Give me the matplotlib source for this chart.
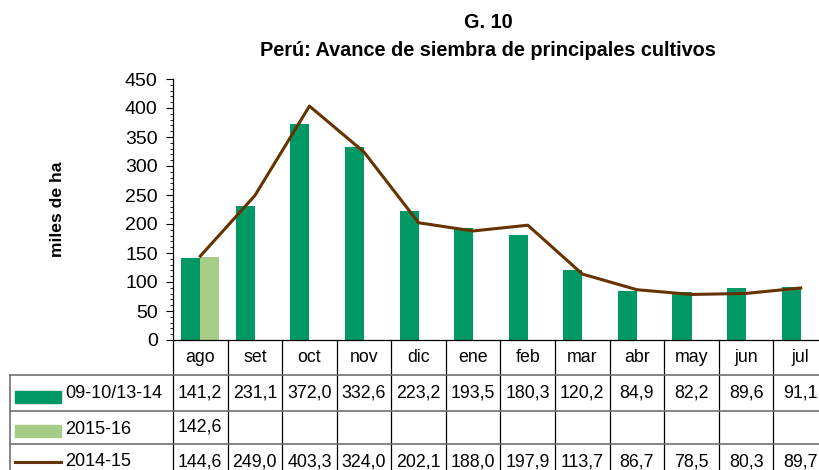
import matplotlib.pyplot as plt
import matplotlib.transforms as mtransforms
import numpy as np

plt.rcParams['font.family'] = ['Liberation Sans', 'DejaVu Sans']

meses = ['ago', 'set', 'oct', 'nov', 'dic', 'ene', 'feb', 'mar', 'abr', 'may', 'jun', 'jul']
prom_0914 = [141.2, 231.1, 372.0, 332.6, 223.2, 193.5, 180.3, 120.2, 84.9, 82.2, 89.6, 91.1]
camp_1516 = [142.6]
camp_1415 = [144.6, 249.0, 403.3, 324.0, 202.1, 188.0, 197.9, 113.7, 86.7, 78.5, 80.3, 89.7]

c_dark = '#009966'
c_light = '#a6cd86'
c_brown = '#663300'
fs = 12.8

fig = plt.figure(figsize=(8.2, 4.7), dpi=100)
ax = fig.add_axes([173 / 820, 130 / 470, 655 / 820, 261 / 470])

x = np.arange(len(meses))
w = 0.35
ax.bar(x - w / 2, prom_0914, width=w, color=c_dark, zorder=2)
ax.bar(x[:len(camp_1516)] + w / 2, camp_1516, width=w, color=c_light, zorder=2)
ax.plot(x, camp_1415, color=c_brown, lw=2.2, zorder=3)

ax.set_xlim(-0.5, len(meses) - 0.5)
ax.set_ylim(0, 450)
ax.set_yticks(np.arange(0, 451, 50))
ax.set_yticks(np.arange(0, 451, 10), minor=True)
ax.tick_params(axis='y', which='major', length=5, labelsize=14, pad=6)
ax.tick_params(axis='y', which='minor', length=2.5)
ax.set_xticks([])
for s in ['top', 'right']:
    ax.spines[s].set_visible(False)
ax.spines['left'].set_linewidth(0.9)
ax.spines['bottom'].set_linewidth(0.9)

fig.text(57 / 820, 0.555, 'miles de ha', rotation=90, fontsize=12.6, fontweight='bold',
         ha='center', va='center')
fig.text(0.595, 1 - 23 / 470, 'G. 10', fontsize=14.3, fontweight='bold', ha='center', va='center')
fig.text(0.595, 1 - 50 / 470, 'Perú: Avance de siembra de principales cultivos', fontsize=14.3,
         fontweight='bold', ha='center', va='center')

# table under the axis
tr = mtransforms.blended_transform_factory(ax.transData, ax.transAxes)
h = 261.0
def ya(ypx):
    return (340 - ypx) / h

y_bottom = ya(480)
for i in range(len(meses) + 1):
    ax.plot([i - 0.5, i - 0.5], [0, y_bottom], transform=tr, color='black', lw=0.9, clip_on=False)
for ypx in [375, 411, 444]:
    ax.plot([10 / 820, 1.01], [1 - ypx / 470] * 2, transform=fig.transFigure, color='#707070',
            lw=1.2, clip_on=False)
ax.plot([10 / 820] * 2, [1 - 375 / 470, 0], transform=fig.transFigure, color='#707070',
        lw=1.2, clip_on=False)

for i, m in enumerate(meses):
    ax.text(i, ya(357), m, transform=tr, ha='center', va='center', fontsize=fs)
    ax.text(i, ya(393), f'{prom_0914[i]:.1f}'.replace('.', ','), transform=tr,
            ha='center', va='center', fontsize=fs)
    ax.text(i, ya(462), f'{camp_1415[i]:.1f}'.replace('.', ','), transform=tr,
            ha='center', va='center', fontsize=fs)
for i, v in enumerate(camp_1516):
    ax.text(i, ya(427), f'{v:.1f}'.replace('.', ','), transform=tr,
            ha='center', va='center', fontsize=fs)

# row labels with legend keys
ft = fig.transFigure
fig.patches.append(plt.Rectangle((15 / 820, 1 - 403 / 470), 46 / 820, 12 / 470,
                                 transform=ft, color=c_dark))
fig.patches.append(plt.Rectangle((15 / 820, 1 - 437 / 470), 46 / 820, 12 / 470,
                                 transform=ft, color=c_light))
fig.lines.append(plt.Line2D([15 / 820, 61 / 820], [1 - 462 / 470] * 2, transform=ft,
                            color=c_brown, lw=2.2))
fig.text(65 / 820, 1 - 393 / 470, '09-10/13-14', fontsize=13, va='center')
fig.text(65 / 820, 1 - 429 / 470, '2015-16', fontsize=13, va='center')
fig.text(65 / 820, 1 - 462 / 470, '2014-15', fontsize=13, va='center')

fig.savefig('out.png', dpi=100)
